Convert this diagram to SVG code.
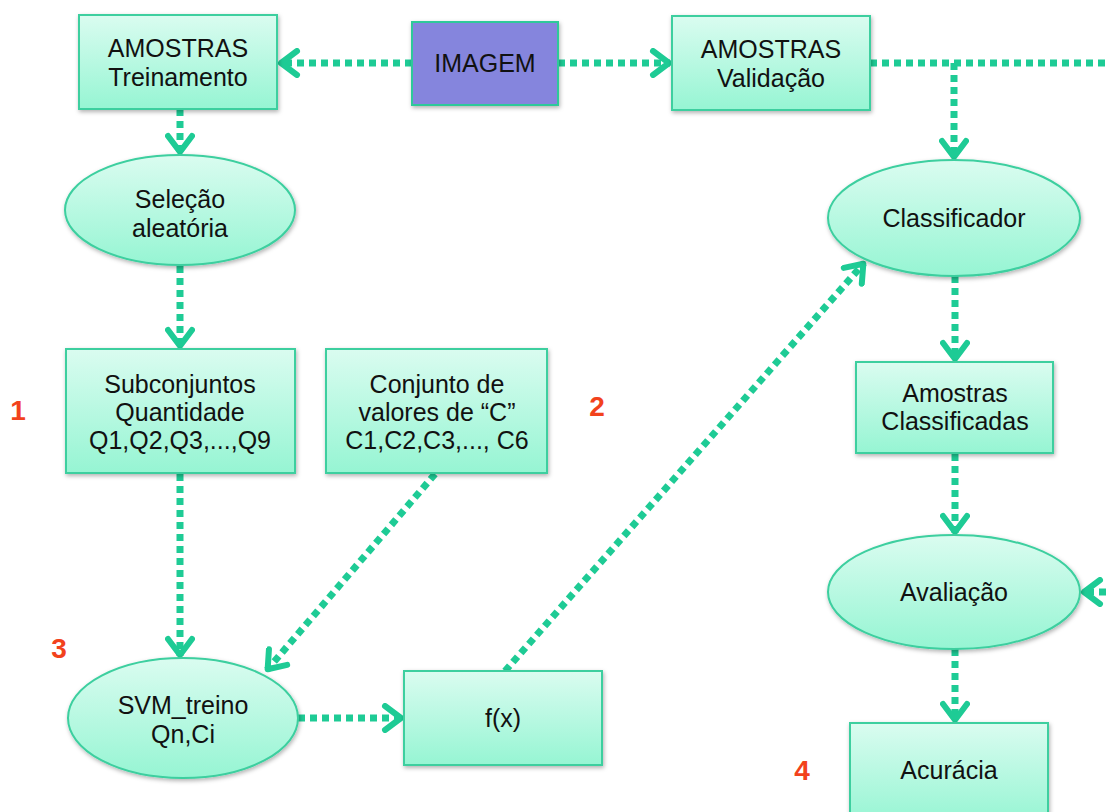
<svg xmlns="http://www.w3.org/2000/svg" width="1106" height="812" viewBox="0 0 1106 812">
<style>
text{font-family:"Liberation Sans",Arial,sans-serif;font-size:25px;fill:#111;text-anchor:middle}
.n{fill:url(#g);stroke:#3ccf9f;stroke-width:2;filter:url(#sh)}
.im{fill:#8585dd;stroke:#2ec99a;stroke-width:2;filter:url(#sh)}
.c{fill:none;stroke:#1ecb95;stroke-width:7;stroke-dasharray:7 5}
.num{fill:#f2421c;font-weight:bold;font-size:28px}
</style>
<defs>
<linearGradient id="g" x1="0" y1="0" x2="0" y2="1"><stop offset="0" stop-color="#dafcf0"/><stop offset="1" stop-color="#96f5d3"/></linearGradient>
<filter id="sh" x="-10%" y="-10%" width="125%" height="130%"><feDropShadow dx="1" dy="2" stdDeviation="2" flood-color="#000" flood-opacity="0.3"/></filter>
<marker id="a" viewBox="0 0 26 30" markerWidth="26" markerHeight="30" markerUnits="userSpaceOnUse" refX="23" refY="15" orient="auto"><path d="M6,3 L22,15 L6,27" fill="none" stroke="#1ecb95" stroke-width="6" stroke-linecap="round" stroke-linejoin="round"/></marker>
</defs>
<g id="connectors">
<line class="c" x1="412" y1="63" x2="280" y2="63" marker-end="url(#a)"/>
<line class="c" x1="558" y1="63" x2="670" y2="63" marker-end="url(#a)"/>
<line class="c" x1="870" y1="63" x2="1106" y2="63"/>
<line class="c" x1="954" y1="63" x2="954" y2="158" marker-end="url(#a)"/>
<line class="c" x1="180" y1="109" x2="180" y2="153" marker-end="url(#a)"/>
<line class="c" x1="180" y1="266" x2="180" y2="347" marker-end="url(#a)"/>
<line class="c" x1="180" y1="474" x2="180" y2="656" marker-end="url(#a)"/>
<line class="c" x1="435" y1="474" x2="267" y2="670" marker-end="url(#a)"/>
<line class="c" x1="298" y1="718" x2="402" y2="718" marker-end="url(#a)"/>
<line class="c" x1="505" y1="671" x2="864" y2="263" marker-end="url(#a)"/>
<line class="c" x1="955" y1="276" x2="955" y2="360" marker-end="url(#a)"/>
<line class="c" x1="955" y1="454" x2="955" y2="533" marker-end="url(#a)"/>
<line class="c" x1="1106" y1="592" x2="1083" y2="592" marker-end="url(#a)"/>
<line class="c" x1="955" y1="649" x2="955" y2="721" marker-end="url(#a)"/>
</g>
<g id="treinamento"><rect class="n" x="79" y="15" width="198" height="94"/><text x="178" y="57">AMOSTRAS</text><text x="178" y="86">Treinamento</text></g>
<g id="imagem"><rect class="im" x="412" y="22" width="146" height="83"/><text x="485" y="72">IMAGEM</text></g>
<g id="validacao"><rect class="n" x="672" y="16" width="198" height="94"/><text x="771" y="58">AMOSTRAS</text><text x="771" y="87">Validação</text></g>
<g id="selecao"><ellipse class="n" cx="180" cy="210" rx="115" ry="55"/><text x="180" y="208">Seleção</text><text x="180" y="237">aleatória</text></g>
<g id="classificador"><ellipse class="n" cx="954" cy="218" rx="126" ry="58"/><text x="954" y="227">Classificador</text></g>
<g id="subconjuntos"><rect class="n" x="66" y="349" width="229" height="124"/><text x="180" y="393">Subconjuntos</text><text x="180" y="421">Quantidade</text><text x="180" y="449">Q1,Q2,Q3,...,Q9</text></g>
<g id="conjunto"><rect class="n" x="326" y="349" width="221" height="124"/><text x="437" y="393">Conjunto de</text><text x="437" y="421">valores de “C”</text><text x="437" y="449">C1,C2,C3,..., C6</text></g>
<g id="amostras-classificadas"><rect class="n" x="856" y="362" width="197" height="91"/><text x="955" y="402">Amostras</text><text x="955" y="430">Classificadas</text></g>
<g id="avaliacao"><ellipse class="n" cx="954" cy="592" rx="126" ry="57"/><text x="954" y="601">Avaliação</text></g>
<g id="svm"><ellipse class="n" cx="183" cy="718" rx="115" ry="60"/><text x="183" y="714">SVM_treino</text><text x="183" y="743">Qn,Ci</text></g>
<g id="fx"><rect class="n" x="404" y="671" width="198" height="94"/><text x="503" y="727">f(x)</text></g>
<g id="acuracia"><rect class="n" x="850" y="723" width="198" height="100"/><text x="949" y="779">Acurácia</text></g>
<g id="labels"><text class="num" x="18" y="420">1</text><text class="num" x="597" y="416">2</text><text class="num" x="59" y="658">3</text><text class="num" x="802" y="780">4</text></g>
</svg>
